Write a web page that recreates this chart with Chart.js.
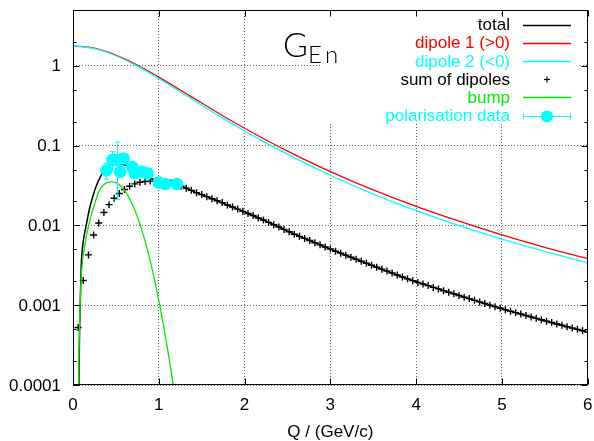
<!DOCTYPE html>
<html>
<head>
<meta charset="utf-8">
<script src="https://cdn.jsdelivr.net/npm/chart.js@4.4.1/dist/chart.umd.min.js"></script>
<style>
  html, body { margin: 0; padding: 0; background: #ffffff; }
  #wrap { width: 594px; height: 441px; }
</style>
</head>
<body>
<div id="wrap"><canvas id="c" width="594" height="441"></canvas></div>
<script>
// Neutron electric form factor G_En versus Q, log scale.

// Dipole 1 (positive) and |dipole 2| (negative), sampled in Q.
const Q_DIPOLE = [0, 0.25, 0.5, 0.75, 1, 1.25, 1.5, 1.75, 2, 2.25, 2.5, 2.75, 3, 3.5, 4, 4.5, 5, 5.5, 6];
const DIPOLE_1 = [1.78, 1.66, 1.36, 1.02, 0.721, 0.497, 0.341, 0.235, 0.165, 0.1175, 0.0852, 0.0629, 0.0472, 0.0278, 0.0173, 0.0113, 0.00762, 0.00532, 0.00383];
const DIPOLE_2 = [1.77, 1.64, 1.335, 0.99, 0.693, 0.472, 0.32, 0.219, 0.1525, 0.108, 0.078, 0.0572, 0.0425, 0.0247, 0.0153, 0.00995, 0.00675, 0.00472, 0.0034];

// Sum of the two dipoles (plotted as crosses).
const Q_SUM = [0.06,0.12,0.18,0.24,0.30,0.36,0.42,0.48,0.54,0.60,
  0.66,0.72,0.78,0.84,0.90,0.96,1.02,1.08,1.14,1.20,
  1.26,1.32,1.38,1.44,1.50,1.56,1.62,1.68,1.74,1.80,
  1.86,1.92,1.98,2.04,2.10,2.16,2.22,2.28,2.34,2.40,
  2.46,2.52,2.58,2.64,2.70,2.76,2.82,2.88,2.94,3.00,
  3.06,3.12,3.18,3.24,3.30,3.36,3.42,3.48,3.54,3.60,
  3.66,3.72,3.78,3.84,3.90,3.96,4.02,4.08,4.14,4.20,
  4.26,4.32,4.38,4.44,4.50,4.56,4.62,4.68,4.74,4.80,
  4.86,4.92,4.98,5.04,5.10,5.16,5.22,5.28,5.34,5.40,
  5.46,5.52,5.58,5.64,5.70,5.76,5.82,5.88,5.94,6.00];
const SUM_OF_DIPOLES = [0.000525,0.00204,0.00427,0.00759,0.0107,0.0145,0.0182,0.0219,0.0251,0.0282,
  0.0309,0.0331,0.0347,0.0355,0.0359,0.0359,0.0355,0.0347,0.0339,0.0324,
  0.0309,0.0292,0.0275,0.0257,0.0243,0.0229,0.0216,0.0204,0.0193,0.0180,
  0.0170,0.0160,0.0150,0.0141,0.0133,0.0124,0.0117,0.0109,0.0102,0.00955,
  0.00891,0.00832,0.00776,0.00729,0.00687,0.00646,0.00607,0.00570,0.00537,0.00505,
  0.00475,0.00449,0.00424,0.00399,0.00377,0.00356,0.00336,0.00317,0.00299,0.00283,
  0.00268,0.00253,0.00239,0.00226,0.00214,0.00203,0.00193,0.00184,0.00176,0.00167,
  0.00160,0.00152,0.00145,0.00139,0.00132,0.00126,0.00121,0.00115,0.00110,0.00105,
  0.00100,0.000959,0.000916,0.000877,0.000841,0.000807,0.000774,0.000743,0.000713,0.000684,
  0.000658,0.000631,0.000607,0.000582,0.000560,0.000538,0.000518,0.000498,0.000479,0.000460];

// Total form factor (dipoles + bump).
const Q_TOTAL = [0.068,0.075,0.085,0.096,0.12,0.154,0.19,0.23,0.27,0.31,0.366,0.42,0.48,0.54,0.60,
  0.66,0.72,0.78,0.84,0.90,0.96,1.02,1.08,1.14,1.20,1.32,1.44,1.56,1.68,1.80,1.92,2.04,
  2.22,2.40,2.58,2.76,2.94,3.24,3.54,3.84,4.14,4.44,4.74,5.04,5.34,5.64,6.0];
const TOTAL = [0.000063,0.000355,0.00112,0.00316,0.00631,0.0100,0.0158,0.0229,0.0309,0.0389,0.0490,0.0550,0.0582,0.0589,0.0575,
  0.0543,0.0501,0.0457,0.0417,0.0389,0.0372,0.0359,0.0349,0.0339,0.0324,0.0292,0.0257,0.0229,0.0204,0.0180,0.0160,0.0141,
  0.0117,0.00955,0.00776,0.00646,0.00537,0.00399,0.00299,0.00226,0.00176,0.00139,0.00110,0.000877,0.000713,0.000582,0.000460];

// Bump term.
const Q_BUMP = [0.062,0.066,0.07,0.08,0.09,0.10,0.12,0.15,0.20,0.25,0.30,0.35,0.40,0.45,0.50,
  0.55,0.60,0.65,0.70,0.75,0.80,0.85,0.90,0.95,1.00,1.05,1.10,1.15,1.20];
const BUMP = [0.00005,0.0001,0.000251,0.000794,0.00166,0.00263,0.00427,0.00676,0.0120,0.0182,0.0263,0.0316,0.0343,0.0351,0.0343,
  0.0316,0.0275,0.0226,0.0176,0.0129,0.00891,0.00582,0.00359,0.00209,0.00115,0.000596,0.000292,0.000135,0.0000589];

// Polarisation measurements with their errors.
const Q_POL = [0.39, 0.46, 0.51, 0.55, 0.59, 0.69, 0.72, 0.80, 0.87, 1.00, 1.08, 1.21];
const G_POL = [0.049, 0.066, 0.066, 0.047, 0.069, 0.054, 0.045, 0.047, 0.045, 0.0345, 0.033, 0.033];
const G_POL_ERR = [0.011, 0.018, 0.045, 0.005, 0.006, 0.005, 0.005, 0.005, 0.005, 0.004, 0.004, 0.004];

const Q_TICKS = [0, 1, 2, 3, 4, 5, 6];
const Q_TICK_LABELS = ['0', '1', '2', '3', '4', '5', '6'];
const G_TICKS = [0.0001, 0.001, 0.01, 0.1, 1];
const G_TICK_LABELS = ['0.0001', '0.001', '0.01', '0.1', '1'];
const G_MINOR_STEPS = [2, 5];
const SERIES_LABELS = ['total', 'dipole 1 (>0)', 'dipole 2 (<0)', 'sum of dipoles', 'bump', 'polarisation data'];
const X_TITLE = 'Q / (GeV/c)';

const FONT = '"Liberation Sans", Arial, sans-serif';
const pts = (xs, ys) => xs.map((x, i) => ({ x: x, y: ys[i] }));

const datasets = [
  { label: SERIES_LABELS[0], kind: 'line', data: pts(Q_TOTAL, TOTAL), borderColor: '#000000',
    borderWidth: 1.5, pointRadius: 0, cubicInterpolationMode: 'monotone', order: 6, clip: 0 },
  { label: SERIES_LABELS[1], kind: 'line', data: pts(Q_DIPOLE, DIPOLE_1), borderColor: '#ff0000',
    borderWidth: 1.3, pointRadius: 0, cubicInterpolationMode: 'monotone', order: 5, clip: 0 },
  { label: SERIES_LABELS[2], kind: 'line', data: pts(Q_DIPOLE, DIPOLE_2), borderColor: '#00ffff',
    borderWidth: 1.3, pointRadius: 0, cubicInterpolationMode: 'monotone', order: 4, clip: 0 },
  { label: SERIES_LABELS[3], kind: 'cross', data: pts(Q_SUM, SUM_OF_DIPOLES), borderColor: '#000000',
    backgroundColor: '#000000', showLine: false, pointStyle: 'cross', pointRadius: 3.5,
    pointBorderWidth: 1.4, order: 3, clip: 0 },
  { label: SERIES_LABELS[4], kind: 'line', data: pts(Q_BUMP, BUMP), borderColor: '#00ee00',
    borderWidth: 1.3, pointRadius: 0, cubicInterpolationMode: 'monotone', order: 2, clip: 0 },
  { label: SERIES_LABELS[5], kind: 'errpoint', data: pts(Q_POL, G_POL), errors: G_POL_ERR,
    borderColor: '#00ffff', backgroundColor: '#00ffff', showLine: false, pointStyle: 'circle',
    pointRadius: 6.3, pointBorderWidth: 0, order: 1, clip: 0 }
];

function line(ctx, x1, y1, x2, y2) {
  ctx.beginPath(); ctx.moveTo(x1, y1); ctx.lineTo(x2, y2); ctx.stroke();
}

function drawErrorBar(ctx, px, yLo, yHi, color) {
  ctx.strokeStyle = color; ctx.lineWidth = 1;
  line(ctx, px, yLo, px, yHi);
  line(ctx, px - 3, yLo, px + 3, yLo);
  line(ctx, px - 3, yHi, px + 3, yHi);
}

const gnuFrame = {
  id: 'gnuFrame',
  beforeDatasetDraw(chart, args) {
    const ds = chart.data.datasets[args.index];
    if (!ds.errors) return;
    const { ctx, chartArea: a, scales: { x, y } } = chart;
    ctx.save();
    ctx.beginPath(); ctx.rect(a.left, a.top, a.right - a.left, a.bottom - a.top); ctx.clip();
    ds.data.forEach((p, i) => {
      const e = ds.errors[i];
      const px = Math.round(x.getPixelForValue(p.x)) + 0.5;
      drawErrorBar(ctx, px, y.getPixelForValue(p.y - e), y.getPixelForValue(p.y + e), ds.borderColor);
    });
    ctx.restore();
  },
  afterDatasetsDraw(chart) {
    const { ctx, chartArea: a, scales: { x, y } } = chart;
    ctx.save();

    // opaque key box
    ctx.fillStyle = '#ffffff';
    ctx.fillRect(320, 15, 260, 109);

    // key entries
    ctx.font = '17px ' + FONT;
    ctx.textAlign = 'right';
    ctx.textBaseline = 'middle';
    chart.data.datasets.forEach((ds, i) => {
      const ry = 24.5 + i * 18.2;
      ctx.fillStyle = ds.borderColor;
      ctx.fillText(ds.label, 510, ry + 1);
      const sy = Math.round(ry) + 0.5;
      if (ds.kind === 'line') {
        ctx.strokeStyle = ds.borderColor; ctx.lineWidth = 1.3;
        line(ctx, 523, sy, 571, sy);
      } else if (ds.kind === 'cross') {
        ctx.strokeStyle = ds.borderColor; ctx.lineWidth = 1.2;
        line(ctx, 544, sy, 550, sy);
        line(ctx, 547, sy - 3, 547, sy + 3);
      } else {
        ctx.strokeStyle = ds.borderColor; ctx.lineWidth = 1;
        line(ctx, 523, sy, 571, sy);
        line(ctx, 523.5, sy - 3, 523.5, sy + 3);
        line(ctx, 570.5, sy - 3, 570.5, sy + 3);
        ctx.fillStyle = ds.backgroundColor;
        ctx.beginPath(); ctx.arc(547, sy, 6, 0, Math.PI * 2); ctx.fill();
      }
    });

    // title label G_En
    ctx.fillStyle = '#000000';
    ctx.textAlign = 'left';
    ctx.textBaseline = 'alphabetic';
    ctx.font = '300 34px Lato, "Open Sans", sans-serif';
    ctx.fillText('G', 283, 57);
    ctx.font = '300 24px Lato, "DejaVu Sans", sans-serif';
    ctx.fillText('E', 308, 63);
    ctx.fillText('n', 325, 63);

    // border
    ctx.strokeStyle = '#000000'; ctx.lineWidth = 1;
    const L = Math.round(a.left) + 0.5, R = Math.round(a.right) - 0.5;
    const T = Math.round(a.top) + 0.5, B = Math.round(a.bottom) - 0.5;
    ctx.strokeRect(L, T, R - L, B - T);

    // x ticks (inward, bottom and top)
    Q_TICKS.forEach(v => {
      const px = Math.round(x.getPixelForValue(v)) + 0.5;
      line(ctx, px, B, px, B - 6);
      line(ctx, px, T, px, T + 6);
    });
    // y ticks, major and minor (inward, left and right)
    G_TICKS.forEach(v => {
      const py = Math.round(y.getPixelForValue(v)) + 0.5;
      line(ctx, L, py, L + 6, py);
      line(ctx, R, py, R - 6, py);
      G_MINOR_STEPS.forEach(m => {
        const mv = v * m;
        if (mv > y.max) return;
        const my = Math.round(y.getPixelForValue(mv)) + 0.5;
        line(ctx, L, my, L + 3, my);
        line(ctx, R, my, R - 3, my);
      });
    });

    // tick labels
    ctx.fillStyle = '#000000';
    ctx.font = '17px ' + FONT;
    ctx.textAlign = 'center';
    ctx.textBaseline = 'alphabetic';
    Q_TICKS.forEach((v, i) => ctx.fillText(Q_TICK_LABELS[i], x.getPixelForValue(v), 410));
    ctx.textAlign = 'right';
    ctx.textBaseline = 'middle';
    G_TICKS.forEach((v, i) => ctx.fillText(G_TICK_LABELS[i], 61, y.getPixelForValue(v) + 1));

    // axis title
    ctx.textAlign = 'center';
    ctx.textBaseline = 'alphabetic';
    ctx.fillText(X_TITLE, (a.left + a.right) / 2, 437);

    ctx.restore();
  }
};

new Chart(document.getElementById('c'), {
  type: 'line',
  data: { datasets: datasets },
  options: {
    responsive: false,
    animation: false,
    devicePixelRatio: 1,
    layout: { padding: { left: 0, right: 1, top: 10, bottom: 0 } },
    plugins: { legend: { display: false }, tooltip: { enabled: false } },
    scales: {
      x: {
        type: 'linear', min: 0, max: 6,
        afterBuildTicks: s => { s.ticks = Q_TICKS.map(v => ({ value: v })); },
        afterFit: s => { s.height = 56; },
        ticks: { display: false },
        grid: { color: '#666666', lineWidth: 1, drawTicks: false },
        border: { display: false, dash: [1, 2] }
      },
      y: {
        type: 'logarithmic', min: 0.0001, max: 5,
        afterBuildTicks: s => { s.ticks = G_TICKS.map(v => ({ value: v })); },
        afterFit: s => { s.width = 73; },
        ticks: { display: false },
        grid: { color: '#666666', lineWidth: 1, drawTicks: false },
        border: { display: false, dash: [1, 2] }
      }
    }
  },
  plugins: [gnuFrame]
});
</script>
</body>
</html>
